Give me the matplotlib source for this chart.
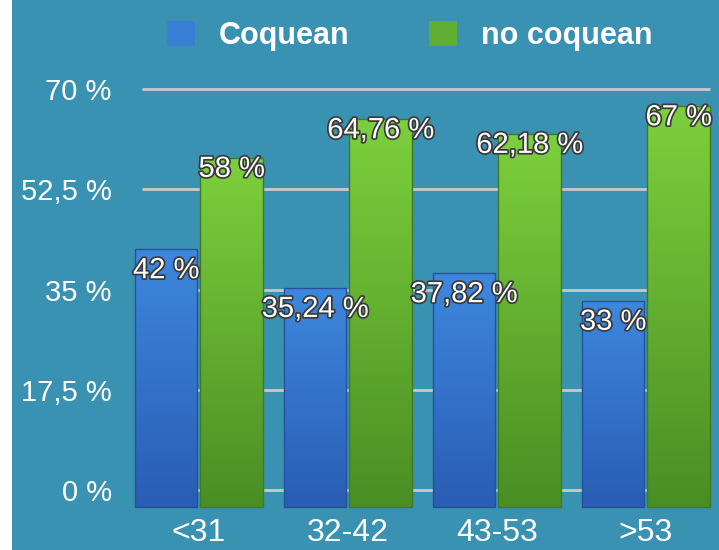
import numpy as np
import matplotlib
matplotlib.use("Agg")
import matplotlib.pyplot as plt
import matplotlib.patheffects as pe
from matplotlib.colors import LinearSegmentedColormap
from matplotlib.patches import Rectangle

plt.rcParams['font.family'] = ['Liberation Sans', 'DejaVu Sans']

categories = ["<31", "32-42", "43-53", ">53"]
coquean = [42, 35.24, 37.82, 33]
no_coquean = [58, 64.76, 62.18, 67]
coquean_labels = ["42 %", "35,24 %", "37,82 %", "33 %"]
no_coquean_labels = ["58 %", "64,76 %", "62,18 %", "67 %"]
y_ticks = [0, 17.5, 35, 52.5, 70]
y_tick_labels = ["0 %", "17,5 %", "35 %", "52,5 %", "70 %"]

BG = "#3a92b2"
BASE = -3.0  # bars sink slightly below the zero line

fig = plt.figure(figsize=(7.19, 5.5), dpi=100)
fig.patch.set_facecolor("white")
fig.add_artist(Rectangle((12 / 719, 0), 1, 1, transform=fig.transFigure,
                         facecolor=BG, edgecolor="none", zorder=-10))

ax = fig.add_axes([120 / 719, 40 / 550, 599 / 719, 430 / 550])
ax.set_facecolor("none")
for s in ax.spines.values():
    s.set_visible(False)

x = np.arange(len(categories))
w = 0.42
off = 0.22

blue_cmap = LinearSegmentedColormap.from_list("b", ["#2a5db4", "#3d88de"])
green_cmap = LinearSegmentedColormap.from_list("g", ["#4a8e24", "#7dd03c"])
grad = np.linspace(0, 1, 256).reshape(-1, 1)

ax.hlines(y_ticks, -0.383, 3.43, colors="#c9c9c9", linewidth=2, zorder=1)

shadow = [pe.withStroke(linewidth=2.5, foreground="#3a3a3a")]


def draw_series(vals, labels, xs, cmap, edge, dy):
    for xi, v, lab in zip(xs, vals, labels):
        bar = ax.bar(xi, v - BASE, w, bottom=BASE, color="none",
                     edgecolor=edge, linewidth=1, zorder=3)[0]
        im = ax.imshow(grad, extent=[xi - w / 2, xi + w / 2, BASE, v], origin="lower",
                       aspect="auto", cmap=cmap, zorder=2)
        im.set_clip_path(bar)
        ax.annotate(lab, (xi, v), xytext=(0, dy), textcoords="offset points",
                    ha="center", va="center", color="white", fontsize=21,
                    path_effects=shadow, zorder=5)


draw_series(coquean, coquean_labels, x - off, blue_cmap, "#25509a", -15)
draw_series(no_coquean, no_coquean_labels, x + off, green_cmap, "#3f7a1f", -8)

ax.set_xlim(-0.530, 3.490)
ax.set_ylim(-3.49, 71.57)
ax.set_xticks(x, categories)
ax.set_yticks(y_ticks, y_tick_labels)
ax.tick_params(axis="both", length=0, colors="white")
ax.tick_params(axis="x", labelsize=23, pad=6)
ax.tick_params(axis="y", labelsize=21, pad=6)

handles = [Rectangle((0, 0), 1, 1, facecolor="#3a7fd6", edgecolor="none"),
           Rectangle((0, 0), 1, 1, facecolor="#5fae30", edgecolor="none")]
leg = fig.legend(handles, ["Coquean", "no coquean"], loc="center",
                 bbox_to_anchor=(410 / 719, 1 - 36 / 550), ncol=2, frameon=False,
                 prop={"size": 22, "weight": "bold"}, handlelength=0.9, handleheight=0.9,
                 handletextpad=0.8, columnspacing=2.6)
for t in leg.get_texts():
    t.set_color("white")

fig.savefig("out.png", dpi=100)
